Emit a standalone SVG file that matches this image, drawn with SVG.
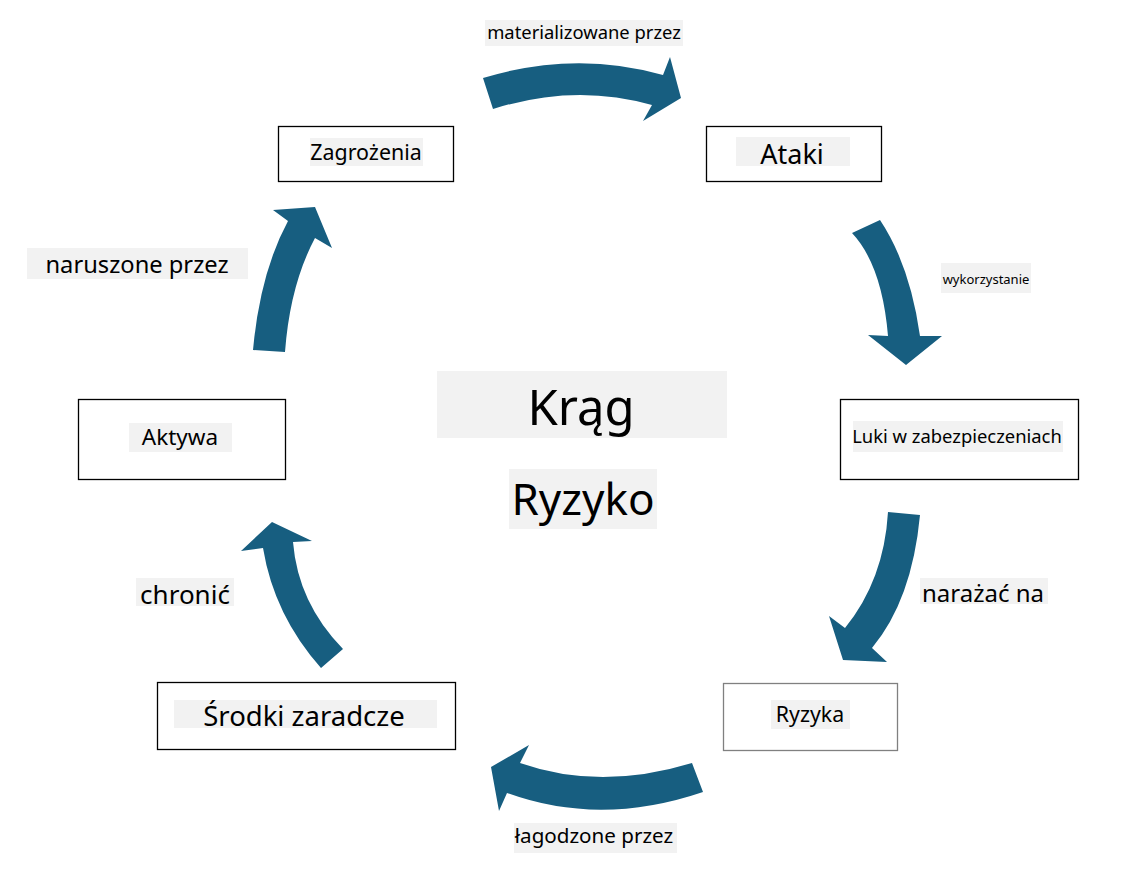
<svg xmlns="http://www.w3.org/2000/svg" width="1121" height="876" viewBox="0 0 1121 876">
<style>
.box{fill:#ffffff;stroke:#000000;stroke-width:1.3}
.box2{fill:#ffffff;stroke:#808080;stroke-width:1.3}
.bg{fill:#f2f2f2}
.t{font-family:"Noto Sans","Open Sans","DejaVu Sans",sans-serif;fill:#000000;text-anchor:middle}
.arr{fill:#175e80}
</style>
<rect width="1121" height="876" fill="#ffffff"/>
<g id="connectors">
<path class="arr" d="M483,78 Q575,50 663,75 L670,57 L681,98 L643,121 L652,105 Q575,83 493,109 Z"/>
<path class="arr" d="M852,233 L880,220 Q910,265 920,336 L942,336 L906,365 L868,335 L888,336 Q882,265 852,233 Z"/>
<path class="arr" d="M888,512 L920,515 Q912,600 872,648 L887,662 L843,660 L829,616 L845,628 Q884,580 888,512 Z"/>
<path class="arr" d="M692,763 Q600,791 520,763 L529,745 L491,767 L499,811 L507,793 Q600,827 703,792 Z"/>
<path class="arr" d="M343,649 Q298,603 293,542 L312,541 L272,522 L241,551 L263,548 Q274,615 321,668 Z"/>
<path class="arr" d="M253,350 Q260,273 288,221 L273,210 L315,207 L332,248 L315,238 Q290,285 285,352 Z"/>
</g>
<g id="label-materializowane"><rect class="bg" x="485" y="20" width="198" height="26"/><text class="t" x="584" y="39" font-size="18.4">materializowane przez</text></g>
<g id="label-wykorzystanie"><rect class="bg" x="941" y="263" width="90" height="30"/><text class="t" x="986" y="284" font-size="13">wykorzystanie</text></g>
<g id="label-narazac"><rect class="bg" x="920" y="578" width="128" height="26"/><text class="t" x="983" y="602" font-size="24">narażać na</text></g>
<g id="label-lagodzone"><rect class="bg" x="514" y="823" width="163" height="30"/><text class="t" x="594" y="843" font-size="20.6">łagodzone przez</text></g>
<g id="label-chronic"><rect class="bg" x="136" y="578" width="98" height="28"/><text class="t" x="185" y="604" font-size="26">chronić</text></g>
<g id="label-naruszone"><rect class="bg" x="27" y="248" width="221" height="31"/><text class="t" x="137" y="273" font-size="23.7">naruszone przez</text></g>
<g id="node-zagrozenia"><rect class="box" x="278.5" y="126.5" width="175" height="55"/><rect class="bg" x="310" y="138" width="113" height="28"/><text class="t" x="366" y="160" font-size="21.4">Zagrożenia</text></g>
<g id="node-ataki"><rect class="box" x="706.5" y="126.5" width="175" height="55"/><rect class="bg" x="736" y="137" width="114" height="29"/><text class="t" x="792" y="164" font-size="27">Ataki</text></g>
<g id="node-luki"><rect class="box" x="840.5" y="399.5" width="238" height="80"/><rect class="bg" x="853" y="421" width="210" height="31"/><text class="t" x="957" y="443" font-size="18.4">Luki w zabezpieczeniach</text></g>
<g id="node-ryzyka"><rect class="box2" x="723.5" y="683.5" width="174" height="67"/><rect class="bg" x="771" y="700" width="79" height="29"/><text class="t" x="810" y="722" font-size="21.3">Ryzyka</text></g>
<g id="node-srodki"><rect class="box" x="157.5" y="682.5" width="298" height="67"/><rect class="bg" x="174" y="700" width="263" height="28"/><text class="t" x="304" y="726" font-size="27.5">Środki zaradcze</text></g>
<g id="node-aktywa"><rect class="box" x="78.5" y="399.5" width="207" height="80"/><rect class="bg" x="129" y="423" width="103" height="29"/><text class="t" x="180" y="445" font-size="22.5">Aktywa</text></g>
<g id="title"><rect class="bg" x="437" y="371" width="290" height="67"/><text class="t" x="581" y="425" font-size="49">Krąg</text><rect class="bg" x="509" y="469" width="148" height="60"/><text class="t" x="583" y="515" font-size="44">Ryzyko</text></g>
</svg>
